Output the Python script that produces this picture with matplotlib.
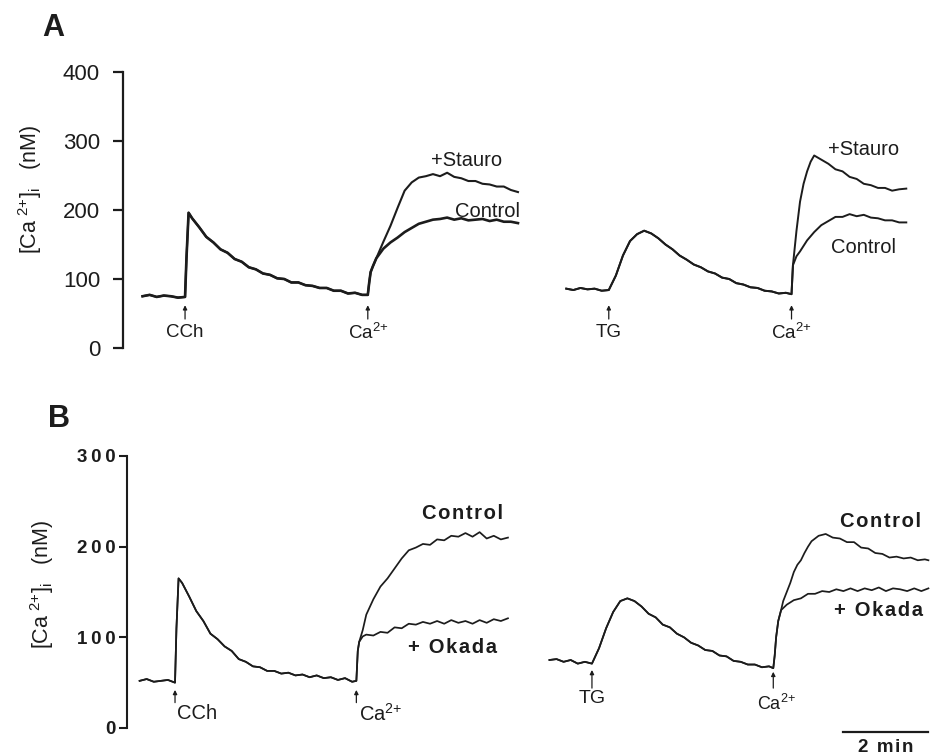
import matplotlib
matplotlib.use("Agg")
from matplotlib import pyplot as plt

plt.rcParams['font.family'] = ['Liberation Sans', 'DejaVu Sans']
plt.rcParams['mathtext.default'] = 'regular'

# times in s after agonist (CCh / TG), [Ca2+]i in nM
# --- panel A, CCh (shared part, then after Ca2+ readdition)
a_cch_t = [-60, -50, -40, -30, -20, -10, 0, 2, 5, 10, 20, 30, 40, 50, 60, 70, 80, 90, 100,
           110, 120, 130, 140, 150, 160, 170, 180, 190, 200, 210, 220, 230, 240, 250, 258,
           260, 262, 265, 270]
a_cch_v = [75, 77, 74, 76, 75, 73, 74, 130, 196, 188, 175, 161, 153, 143, 138, 129, 125, 117, 114,
           108, 106, 101, 100, 95, 95, 91, 90, 87, 87, 83, 83, 79, 80, 77, 77,
           95, 110, 118, 130]
a_cch_post_t = [280, 290, 300, 310, 320, 330, 340, 350, 360, 370, 380, 390, 400, 410, 420,
                430, 440, 450, 460, 470]
a_cch_ctrl = [144, 153, 160, 168, 174, 180, 183, 186, 187, 189, 186, 188, 185, 186, 187,
              184, 186, 183, 183, 181]
a_cch_stau = [154, 177, 203, 228, 240, 247, 249, 252, 249, 254, 248, 246, 242, 242, 238,
              237, 234, 234, 229, 226]

# --- panel A, TG
a_tg_t = [-60, -50, -40, -30, -20, -10, 0, 10, 20, 30, 40, 50, 60, 70, 80, 90, 100, 110, 120,
          130, 140, 150, 160, 170, 180, 190, 200, 210, 220, 230, 240, 250, 258, 260]
a_tg_v = [86, 84, 87, 85, 86, 83, 84, 105, 134, 155, 165, 170, 166, 159, 150, 143, 134, 128, 121,
          117, 111, 108, 102, 100, 94, 92, 88, 87, 83, 82, 79, 80, 78, 120]
a_tg_stau_t = [265, 270, 275, 280, 285, 290, 300, 310, 320, 330, 340, 350, 360, 370, 380,
               390, 400, 410, 420]
a_tg_stau = [170, 212, 238, 256, 270, 279, 273, 267, 259, 256, 248, 245, 238, 236, 232,
             232, 228, 230, 231]
a_tg_ctrl_t = [265, 270, 280, 290, 300, 310, 320, 330, 340, 350, 360, 370, 380, 390, 400,
               410, 420]
a_tg_ctrl = [133, 140, 156, 168, 178, 184, 190, 190, 194, 191, 193, 189, 188, 185, 185,
             182, 182]

# --- panel B, CCh
b_cch_t = [-50, -40, -30, -20, -10, 0, 2, 5, 10, 20, 30, 40, 50, 60, 70, 80, 90, 100, 110,
           120, 130, 140, 150, 160, 170, 180, 190, 200, 210, 220, 230, 240, 250, 256, 258, 260]
b_cch_v = [52, 54, 51, 52, 53, 50, 110, 165, 160, 145, 129, 118, 104, 98, 90, 85, 76, 73, 68,
           67, 63, 63, 60, 61, 58, 59, 56, 58, 55, 56, 53, 55, 51, 52, 85, 95]
b_cch_post_t = [265, 270, 280, 290, 300, 310, 320, 330, 340, 350, 360, 370, 380, 390, 400,
                410, 420, 430, 440, 450, 460, 470]
b_cch_okada = [101, 103, 102, 106, 105, 111, 110, 115, 114, 117, 115, 118, 115, 119, 116,
               118, 115, 119, 116, 120, 118, 121]
b_cch_ctrl = [108, 125, 142, 156, 165, 176, 187, 196, 199, 203, 202, 208, 207, 212, 211,
              215, 211, 216, 209, 212, 208, 210]

# --- panel B, TG
b_tg_t = [-60, -50, -40, -30, -20, -10, 0, 10, 20, 30, 40, 50, 60, 70, 80, 90, 100, 110, 120,
          130, 140, 150, 160, 170, 180, 190, 200, 210, 220, 230, 240, 250, 256, 258, 260, 263, 267]
b_tg_v = [75, 76, 73, 75, 71, 73, 71, 88, 110, 128, 140, 143, 140, 134, 126, 122, 114, 111, 104,
          100, 94, 91, 86, 85, 80, 79, 74, 73, 70, 70, 67, 68, 66, 80, 100, 118, 130]
b_tg_okada_t = [275, 285, 295, 305, 315, 325, 335, 345, 355, 365, 375, 385, 395, 405, 415,
                425, 435, 445, 455, 465, 475]
b_tg_okada = [136, 141, 143, 148, 148, 151, 150, 153, 151, 154, 151, 154, 152, 155, 151,
              154, 153, 151, 154, 151, 154]
b_tg_ctrl_t = [270, 275, 280, 285, 290, 295, 300, 305, 310, 320, 330, 340, 350, 360, 370,
               380, 390, 400, 410, 420, 430, 440, 450, 460, 470, 475]
b_tg_ctrl = [140, 150, 160, 172, 180, 185, 193, 200, 206, 212, 214, 210, 209, 205, 205,
             199, 198, 193, 192, 188, 189, 187, 188, 185, 186, 185]

ca_time_a = 258
ca_time_b = [256, 256]
yticks_a = [0, 100, 200, 300, 400]
yticks_b = [0, 100, 200, 300]

W, H = 932, 755
INK = '#1c1c1c'
CA = 'Ca$^{2{+}}$'
YLAB = '[Ca$^{\\ 2{+}}$]$_{i}$   (nM)'
fig = plt.figure(figsize=(W / 100, H / 100), dpi=100)


def rect(x0, y0, x1, y1):
    return [x0 / W, 1 - y1 / H, (x1 - x0) / W, (y1 - y0) / H]


def spaced(s, gap='\u200a'):
    # the panel B lettering is set with wide tracking
    return gap.join(s)


def trace(ax, t, v, off, lw=1.3):
    ax.plot([off + s / 60 for s in t], v, color=INK, lw=lw, solid_joinstyle='round')


def arrow(ax, x, y0, y1):
    ax.annotate('', xy=(x, y1), xytext=(x, y0),
                arrowprops=dict(arrowstyle='-|>', color=INK, lw=0.9,
                                mutation_scale=6, shrinkA=0, shrinkB=0))


def clean(ax, lw):
    ax.set_xticks([])
    for s in ['top', 'right', 'bottom']:
        ax.spines[s].set_visible(False)
    ax.spines['left'].set_linewidth(lw)
    ax.spines['left'].set_color(INK)


# ---------- panel A
axA = fig.add_axes(rect(123, 72, 932, 348))
offA1, offA2 = 1.46, 11.43
trace(axA, a_cch_t + a_cch_post_t, a_cch_v + a_cch_ctrl, offA1, 1.9)
trace(axA, a_cch_t + a_cch_post_t, a_cch_v + a_cch_stau, offA1, 1.5)
trace(axA, a_tg_t + a_tg_stau_t, a_tg_v + a_tg_stau, offA2, 1.4)
trace(axA, a_tg_t + a_tg_ctrl_t, a_tg_v + a_tg_ctrl, offA2, 1.4)
axA.set_ylim(0, 400)
axA.set_xlim(0, 809 / 42.5)
axA.set_yticks(yticks_a)
axA.tick_params(axis='y', direction='out', length=7.5, width=1.6, labelsize=16, pad=9,
                colors=INK)
clean(axA, 1.6)

for x, lab in [(offA1, 'CCh'), (offA1 + ca_time_a / 60, CA),
               (offA2, 'TG'), (offA2 + ca_time_a / 60, CA)]:
    arrow(axA, x, 42, 62)
    axA.text(x, 22, lab, ha='center', va='center', fontsize=13.5, color=INK)

axA.text((467 - 123) / 42.5, 272, '+Stauro', ha='center', va='center', fontsize=14.5, color=INK)
axA.text((488 - 123) / 42.5, 198, 'Control', ha='center', va='center', fontsize=14.5, color=INK)
axA.text((864 - 123) / 42.5, 288, '+Stauro', ha='center', va='center', fontsize=14.5, color=INK)
axA.text((864 - 123) / 42.5, 145, 'Control', ha='center', va='center', fontsize=14.5, color=INK)

fig.text(30 / W, 1 - 189 / H, YLAB, rotation=90, ha='center', va='center',
         fontsize=15.5, color=INK)
fig.text(42 / W, 1 - 28 / H, 'A', ha='left', va='center', fontsize=22, fontweight='bold',
         color=INK)

# ---------- panel B
axB = fig.add_axes(rect(127, 456, 932, 728))
offB1, offB2 = 1.13, 10.94
trace(axB, b_cch_t + b_cch_post_t, b_cch_v + b_cch_ctrl, offB1, 1.25)
trace(axB, b_cch_t + b_cch_post_t, b_cch_v + b_cch_okada, offB1, 1.25)
trace(axB, b_tg_t + b_tg_okada_t, b_tg_v + b_tg_okada, offB2, 1.25)
trace(axB, b_tg_t + b_tg_ctrl_t, b_tg_v + b_tg_ctrl, offB2, 1.25)
axB.set_ylim(0, 300)
axB.set_xlim(0, 805 / 42.5)
axB.set_yticks(yticks_b)
axB.set_yticklabels([spaced(str(v), '\u2009') for v in yticks_b], fontweight='bold')
axB.tick_params(axis='y', direction='out', length=6, width=1.5, labelsize=13.5, pad=2,
                colors=INK)
clean(axB, 1.5)

arrow(axB, offB1, 28, 42)
axB.text(offB1 + 0.04, 16, 'CCh', ha='left', va='center', fontsize=14.5, color=INK)
arrow(axB, offB1 + ca_time_b[0] / 60, 28, 42)
axB.text(offB1 + ca_time_b[0] / 60 + 0.06, 16, CA, ha='left', va='center',
         fontsize=14.5, color=INK)
arrow(axB, offB2, 44, 64)
axB.text(offB2, 33, 'TG', ha='center', va='center', fontsize=14, color=INK)
arrow(axB, offB2 + ca_time_b[1] / 60, 44, 62)
axB.text(offB2 + ca_time_b[1] / 60 + 0.07, 27, CA, ha='center', va='center',
         fontsize=13, color=INK)

axB.text((462 - 127) / 42.5, 237, spaced('Control'), ha='center', va='center', fontsize=14.5,
         fontweight='bold', color=INK)
axB.text((453 - 127) / 42.5, 89, spaced('+ Okada'), ha='center', va='center', fontsize=14.5,
         fontweight='bold', color=INK)
axB.text((880 - 127) / 42.5, 228, spaced('Control'), ha='center', va='center', fontsize=14.5,
         fontweight='bold', color=INK)
axB.text((879 - 127) / 42.5, 130, spaced('+ Okada'), ha='center', va='center', fontsize=14.5,
         fontweight='bold', color=INK)

# 2 min scale bar
axB.plot([(843 - 127) / 42.5, (843 - 127) / 42.5 + 2], [-4.5, -4.5], color=INK, lw=1.6,
         clip_on=False)
axB.text((886 - 127) / 42.5, -22, spaced('2 min'), ha='center', va='center', fontsize=13.5,
         fontweight='bold', color=INK, clip_on=False)

fig.text(42 / W, 1 - 584 / H, YLAB, rotation=90, ha='center', va='center',
         fontsize=15.5, color=INK)
fig.text(48 / W, 1 - 419 / H, 'B', ha='left', va='center', fontsize=22, fontweight='bold',
         color=INK)

fig.savefig('out.png', dpi=100)
